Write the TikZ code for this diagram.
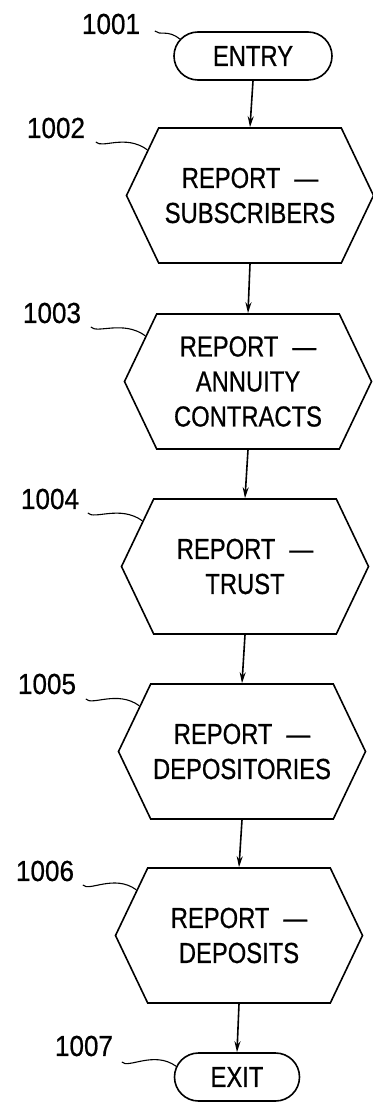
\documentclass[tikz,border=0pt]{standalone}
\usepackage{fontspec}
\setmainfont{Liberation Sans}[FakeStretch=0.82,FakeBold=0.6]
\newfontfamily\refnumfont{Liberation Sans}[FakeStretch=0.9,FakeBold=0.6]
\usetikzlibrary{shapes.symbols,shapes.misc,arrows.meta}

\begin{document}
\begin{tikzpicture}[x=1pt,y=1pt,yscale=-1,xscale=1,
	line width=1.6pt,
	every node/.style={font=\fontsize{29}{35}\selectfont},
	reportbox/.style={draw,signal,signal to=west and east,signal pointer angle=129,minimum width=247pt,minimum height=135pt,inner sep=0pt,align=center},
	terminal/.style={draw,rounded rectangle,minimum height=48pt,inner sep=0pt},
	refnum/.style={inner sep=0pt,font=\refnumfont\fontsize{29}{35}\selectfont},
	flow/.style={-{Stealth[length=11pt,width=6pt]}},
	leader/.style={line width=1.1pt}]
			\useasboundingbox (0,0) rectangle (372,1105);

			% Terminal Node
			\draw (253,56) node [terminal,minimum width=158pt] (entry) {ENTRY};
			% Report Nodes
			\draw (250,195.5) node [reportbox] (r1002) {REPORT\hspace{14pt}\textemdash\\SUBSCRIBERS};
			\draw (248,381.5) node [reportbox] (r1003) {REPORT\hspace{14pt}\textemdash\\ANNUITY\\CONTRACTS};
			\draw (245,566.5) node [reportbox] (r1004) {REPORT\hspace{14pt}\textemdash\\TRUST};
			\draw (242,751.5) node [reportbox] (r1005) {REPORT\hspace{14pt}\textemdash\\DEPOSITORIES};
			\draw (239,935.5) node [reportbox] (r1006) {REPORT\hspace{14pt}\textemdash\\DEPOSITS};
			% Terminal Node
			\draw (237,1077) node [terminal,minimum width=125pt] (exit) {EXIT};

			%Straight Lines
			\draw [flow] (entry.south) -- (r1002.north);
			\draw [flow] (r1002.south) -- (r1003.north);
			\draw [flow] (r1003.south) -- (r1004.north);
			\draw [flow] (r1004.south) -- (r1005.north);
			\draw [flow] (r1005.south) -- (r1006.north);
			\draw [flow] (r1006.south) -- (exit.north);

			% Text Node
			\draw (111,24) node [refnum] (n1001) {1001};
			\draw (56,128) node [refnum] (n1002) {1002};
			\draw (52,313) node [refnum] (n1003) {1003};
			\draw (50,499) node [refnum] (n1004) {1004};
			\draw (47,684) node [refnum] (n1005) {1005};
			\draw (45,871) node [refnum] (n1006) {1006};
			\draw (84,1046) node [refnum] (n1007) {1007};

			%Curve Lines
			\draw [leader] ([shift={(14,7)}]n1001.east) .. controls +(5,5) and +(-12,-10) .. (entry.167);
			\draw [leader] ([shift={(10,14)}]n1002.east) .. controls +(6,7) and +(-22,-16) .. (r1002.156);
			\draw [leader] ([shift={(9,14)}]n1003.east) .. controls +(6,7) and +(-22,-16) .. (r1003.156);
			\draw [leader] ([shift={(8,14)}]n1004.east) .. controls +(6,7) and +(-22,-16) .. (r1004.156);
			\draw [leader] ([shift={(9,15)}]n1005.east) .. controls +(6,7) and +(-22,-16) .. (r1005.156);
			\draw [leader] ([shift={(8,14)}]n1006.east) .. controls +(6,7) and +(-22,-16) .. (r1006.156);
			\draw [leader] ([shift={(8,16)}]n1007.east) .. controls +(6,7) and +(-22,-16) .. (exit.170);
		\end{tikzpicture}
\end{document}
